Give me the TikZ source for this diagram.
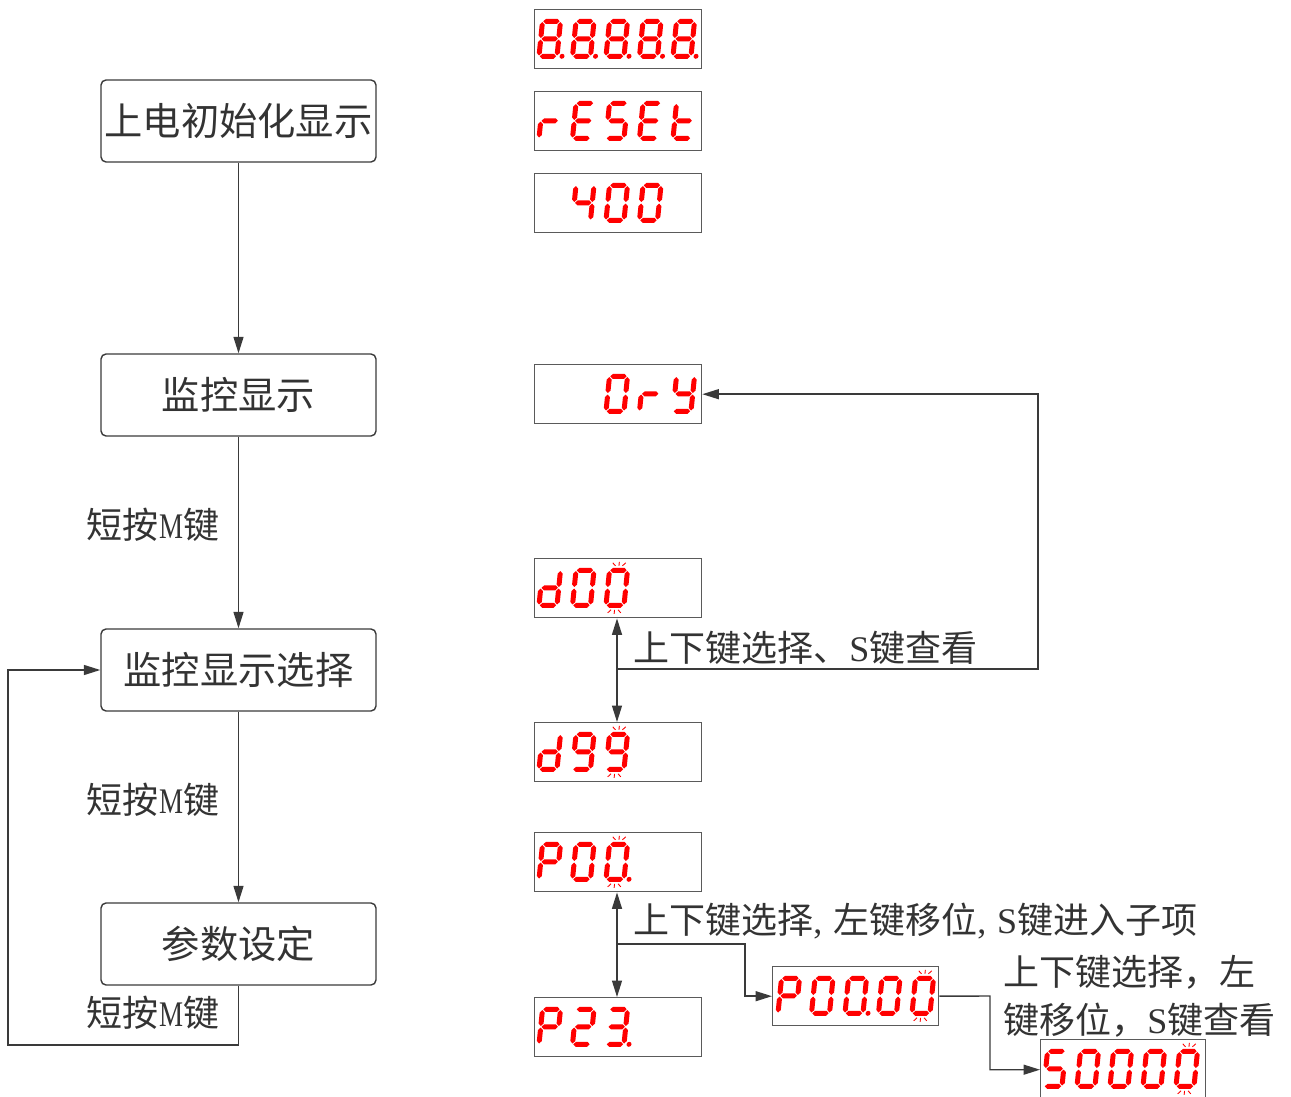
\documentclass[tikz,border=0pt]{standalone}
\usepackage{fontspec}
\setmainfont{Liberation Serif}
\newfontfamily\cjk{Noto Sans CJK SC}
\usetikzlibrary{arrows.meta}
\definecolor{ink}{HTML}{333333}
\definecolor{segc}{HTML}{FF0000}
\definecolor{lin}{HTML}{3A3A3A}
\definecolor{dbord}{HTML}{5A5A5A}
\def\st{2.5}
\newcommand\hsg[3]{\fill[segc] (#1,#3) -- ({#1+\st},{#3+\st}) -- ({#2-\st},{#3+\st}) -- (#2,#3) -- ({#2-\st},{#3-\st}) -- ({#1+\st},{#3-\st}) -- cycle;}
\newcommand\vsg[3]{\fill[segc] (#1,#2) -- ({#1+\st},{#2+\st}) -- ({#1+\st},{#3-\st}) -- (#1,#3) -- ({#1-\st},{#3-\st}) -- ({#1-\st},{#2+\st}) -- cycle;}
\def\segA{\hsg{0.8}{17.2}{35}}
\def\segG{\hsg{0.8}{17.2}{17.5}}
\def\segD{\hsg{0.8}{17.2}{0}}
\def\segF{\vsg{0}{18.3}{34.2}}
\def\segE{\vsg{0}{0.8}{16.7}}
\def\segB{\vsg{18}{18.3}{34.2}}
\def\segC{\vsg{18}{0.8}{16.7}}
\def\segDot{\fill[segc] (23,0) circle (2.5);}
\def\segBlink{\draw[segc, line width=0.5pt] (9,39.5)--(9,43.5) (5.5,39.5)--(2.5,42.5) (12.5,39.5)--(15.5,42.5) (9,-4.5)--(9,-8.5) (5.5,-4.5)--(2.5,-7.5) (12.5,-4.5)--(15.5,-7.5);}
\def\dgEight{\segA\segB\segC\segD\segE\segF\segG}
\def\dgZero{\segA\segB\segC\segD\segE\segF}
\def\dgR{\segE\segG}
\def\dgE{\segA\segD\segE\segF\segG}
\def\dgS{\segA\segF\segG\segC\segD}
\def\dgT{\segF\segE\segG\segD}
\def\dgFour{\segF\segG\segB\segC}
\def\dgY{\segF\segG\segB\segC\segD}
\def\dgD{\segB\segC\segD\segE\segG}
\def\dgNine{\segA\segB\segC\segD\segF\segG}
\def\dgP{\segA\segB\segE\segF\segG}
\def\dgTwo{\segA\segB\segG\segE\segD}
\def\dgThree{\segA\segB\segG\segC\segD}
\newcommand\dig[3]{\begin{scope}[shift={(#1,#2)},x=0.02cm,y=0.02cm,xslant=0.1] #3 \end{scope}}
\tikzset{
  box/.style={draw=lin, line width=0.8pt, rounded corners=0.1cm, minimum width=5.5cm, minimum height=1.64cm, text=ink, inner sep=0, font=\cjk\fontsize{21.8pt}{26pt}\selectfont},
  disp/.style={draw=dbord, line width=0.8pt, minimum width=3.34cm, minimum height=1.18cm, anchor=north west, inner sep=0},
  arr/.style={draw=lin, line width=0.8pt, -{Triangle[length=0.33cm,width=0.2cm]}},
  conn/.style={draw=lin, line width=0.8pt},
  lbl/.style={text=ink, inner sep=0, font=\fontsize{20.5pt}{27.2pt}\selectfont}
}
\begin{document}
\begin{tikzpicture}[x=0.02cm, y=-0.02cm]
\useasboundingbox (0,0) rectangle (1291,1097);
% left flow
\node[box] (b1) at (238.5,121) {上电初始化显示};
\node[box] (b2) at (238.5,395) {监控显示};
\node[box] (b3) at (238.5,670) {监控显示选择};
\node[box] (b4) at (238.5,944) {参数设定};
\draw[arr] (b1) -- (b2);
\draw[arr] (b2) -- (b3);
\draw[arr] (b3) -- (b4);
\coordinate (c1) at (238.5,1045);
\coordinate (c2) at (8,1045);
\draw[arr] (b4.south) -- (c1) -- (c2) |- (b3.west);
\node[lbl] (l1) at (153,525) {{\cjk 短按}\scalebox{0.75}[1]{M}{\cjk 键}};
\node[lbl] (l2) at (153,800) {{\cjk 短按}\scalebox{0.75}[1]{M}{\cjk 键}};
\node[lbl] (l3) at (153,1013) {{\cjk 短按}\scalebox{0.75}[1]{M}{\cjk 键}};
% displays
\node[disp] (d1) at (534,9) {};
\node[disp] (d2) at (534,91) {};
\node[disp] (d3) at (534,173) {};
\node[disp] (d4) at (534,364) {};
\node[disp] (d5) at (534,558) {};
\node[disp] (d6) at (534,722) {};
\node[disp] (d7) at (534,832) {};
\node[disp] (d8) at (534,997) {};
\node[disp, minimum width=3.32cm] (d9) at (772,966) {};
\node[disp, minimum width=3.3cm, minimum height=1.2cm] (d10) at (1040,1039) {};
% digits
\dig{539}{56.3}{\dgEight\segDot}
\dig{572.5}{56.3}{\dgEight\segDot}
\dig{606}{56.3}{\dgEight\segDot}
\dig{639.5}{56.3}{\dgEight\segDot}
\dig{673}{56.3}{\dgEight\segDot}
\dig{539}{138.3}{\dgR}
\dig{572.5}{138.3}{\dgE}
\dig{606}{138.3}{\dgS}
\dig{639.5}{138.3}{\dgE}
\dig{673}{138.3}{\dgT}
\dig{572.5}{220.3}{\dgFour}
\dig{606}{220.3}{\dgZero}
\dig{639.5}{220.3}{\dgZero}
\dig{606}{411.3}{\dgZero}
\dig{639.5}{411.3}{\dgR}
\dig{673}{411.3}{\dgY}
\dig{539}{605.3}{\dgD}
\dig{572.5}{605.3}{\dgZero}
\dig{606}{605.3}{\dgZero\segBlink}
\dig{539}{769.3}{\dgD}
\dig{572.5}{769.3}{\dgNine}
\dig{606}{769.3}{\dgNine\segBlink}
\dig{539}{879.3}{\dgP}
\dig{572.5}{879.3}{\dgZero}
\dig{606}{879.3}{\dgZero\segDot\segBlink}
\dig{539}{1044.3}{\dgP}
\dig{572.5}{1044.3}{\dgTwo}
\dig{606}{1044.3}{\dgThree\segDot}
\dig{778}{1013.3}{\dgP}
\dig{811.5}{1013.3}{\dgZero}
\dig{845}{1013.3}{\dgZero\segDot}
\dig{878.5}{1013.3}{\dgZero}
\dig{912}{1013.3}{\dgZero\segBlink}
\dig{1044}{1086.3}{\dgS}
\dig{1077}{1086.3}{\dgZero}
\dig{1110}{1086.3}{\dgZero}
\dig{1143}{1086.3}{\dgZero}
\dig{1176}{1086.3}{\dgZero\segBlink}
% right connectors
\coordinate (j1) at (617,669);
\coordinate (t1) at (1038,669);
\draw[arr] (j1) -- (d5.south -| j1);
\draw[arr] (j1) -- (d6.north -| j1);
\draw[arr] (j1) -- (t1) |- (d4.east);
\coordinate (j2) at (617,944);
\coordinate (t2) at (745,944);
\draw[arr] (j2) -- (d7.south -| j2);
\draw[arr] (j2) -- (d8.north -| j2);
\draw[arr] (j2) -- (t2) |- (d9.west);
\coordinate (t3) at (990,996);
\draw[arr] (d9.east) -- (t3) |- (d10.west);
% labels
\node[lbl, anchor=west] (l4) at (633,648) {{\cjk 上下键选择、}S{\cjk 键查看}};
\node[lbl, anchor=west] (l5) at (633,921) {{\cjk 上下键选择},\hspace{0.3em}{\cjk 左键移位},\hspace{0.3em}S{\cjk 键进入子项}};
\node[lbl, anchor=west, align=left] (l6) at (1003,996) {{\cjk 上下键选择，左}\\{\cjk 键移位，}S{\cjk 键查看}};
\end{tikzpicture}
\end{document}
